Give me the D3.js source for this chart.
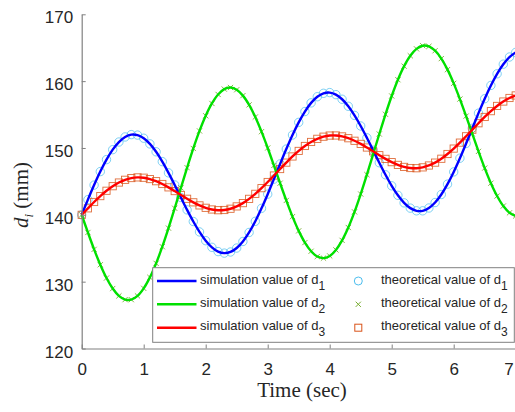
<!DOCTYPE html>
<html>
<head>
<meta charset="utf-8">
<script src="https://cdn.jsdelivr.net/npm/d3@7"></script>
<style>
  html, body { margin: 0; padding: 0; background: #fff; overflow: hidden; }
  svg { display: block; }
</style>
</head>
<body>
<svg id="chart" width="515" height="412"></svg>
<script>
// ---- data ----
const time = [0.0,0.1,0.2,0.3,0.4,0.5,0.6,0.7,0.8,0.9,1.0,1.1,1.2,1.3,1.4,1.5,1.6,1.7,1.8,1.9,2.0,2.1,2.2,2.3,2.4,2.5,2.6,2.7,2.8,2.9,3.0,3.1,3.2,3.3,3.4,3.5,3.6,3.7,3.8,3.9,4.0,4.1,4.2,4.3,4.4,4.5,4.6,4.7,4.8,4.9,5.0,5.1,5.2,5.3,5.4,5.5,5.6,5.7,5.8,5.9,6.0,6.1,6.2,6.3,6.4,6.5,6.6,6.7,6.8,6.9,7.0];
const d1 = [140.00,142.27,144.45,146.47,148.26,149.75,150.89,151.65,152.00,151.93,151.46,150.61,149.43,147.96,146.28,144.47,142.59,140.74,139.00,137.44,136.13,135.14,134.50,134.27,134.44,135.03,136.01,137.36,139.03,140.97,143.09,145.34,147.61,149.84,151.94,153.83,155.45,156.75,157.67,158.18,158.29,157.98,157.29,156.24,154.88,153.29,151.52,149.66,147.79,145.99,144.34,142.92,141.79,141.00,140.60,140.60,141.02,141.84,143.04,144.59,146.42,148.47,150.68,152.95,155.21,157.37,159.36,161.10,162.54,163.61,164.30];
const d2 = [140.00,137.36,134.83,132.53,130.54,128.97,127.87,127.31,127.31,127.87,129.00,130.64,132.74,135.23,138.01,140.98,144.04,147.05,149.93,152.55,154.82,156.66,158.01,158.81,159.05,158.71,157.83,156.45,154.63,152.44,150.00,147.39,144.73,142.15,139.73,137.60,135.85,134.55,133.76,133.52,133.85,134.75,136.18,138.10,140.44,143.11,146.01,149.05,152.09,155.04,157.78,160.21,162.24,163.80,164.83,165.30,165.20,164.55,163.37,161.72,159.67,157.32,154.77,152.12,149.49,146.99,144.73,142.81,141.31,140.30,139.83];
const d3v = [140.00,140.97,141.92,142.80,143.60,144.28,144.83,145.24,145.50,145.60,145.55,145.35,145.03,144.61,144.11,143.55,142.97,142.40,141.87,141.41,141.05,140.80,140.69,140.72,140.91,141.26,141.75,142.39,143.14,143.99,144.91,145.88,146.85,147.81,148.73,149.56,150.30,150.90,151.37,151.69,151.86,151.87,151.73,151.46,151.08,150.61,150.07,149.50,148.92,148.37,147.88,147.47,147.17,147.00,146.97,147.10,147.38,147.81,148.39,149.10,149.91,150.80,151.75,152.73,153.70,154.64,155.51,156.29,156.95,157.48,157.86];
const xTicks = [0,1,2,3,4,5,6,7];
const yTicks = [120,130,140,150,160,170];
const simLabels = ["simulation value of d", "simulation value of d", "simulation value of d"];
const theoLabels = ["theoretical value of d", "theoretical value of d", "theoretical value of d"];
const subs = ["1","2","3"];

// ---- layout ----
const svg = d3.select("#chart");
const x = d3.scaleLinear().domain([0, 7]).range([81.7, 515.7]);
const y = d3.scaleLinear().domain([120, 170]).range([348.5, 14.3]);

const simColors = ["#0000ff", "#00e000", "#ff0000"];
const theoColors = ["#4DBEEE", "#77AC30", "#D95319"];
const series = [d1, d2, d3v];

const font = "'Liberation Sans', Arial, sans-serif";
const serif = "'Liberation Serif', 'Times New Roman', serif";

// markers (drawn beneath the lines)
const mk = svg.append("g");
const pts = i => time.map((t, k) => ({ t, v: series[i][k] }));
mk.append("g").selectAll("circle").data(pts(0)).join("circle")
  .attr("cx", d => x(d.t)).attr("cy", d => y(d.v)).attr("r", 4.2)
  .attr("fill", "none").attr("stroke", theoColors[0]).attr("stroke-width", 0.9).attr("stroke-opacity", 0.8);
mk.append("g").selectAll("path").data(pts(1)).join("path")
  .attr("d", d => { const cx = x(d.t), cy = y(d.v), s = 2.6;
    return `M${cx-s},${cy-s}L${cx+s},${cy+s}M${cx-s},${cy+s}L${cx+s},${cy-s}`; })
  .attr("fill", "none").attr("stroke", theoColors[1]).attr("stroke-width", 0.9);
mk.append("g").selectAll("rect").data(pts(2)).join("rect")
  .attr("x", d => x(d.t) - 3.6).attr("y", d => y(d.v) - 3.6)
  .attr("width", 7.2).attr("height", 7.2)
  .attr("fill", "none").attr("stroke", theoColors[2]).attr("stroke-width", 0.9).attr("stroke-opacity", 0.85);

// simulation lines
const line = d3.line().x((d, k) => x(time[k])).y(d => y(d)).curve(d3.curveCatmullRom);
series.forEach((s, i) => {
  svg.append("path").datum(s).attr("d", line)
    .attr("fill", "none").attr("stroke", simColors[i]).attr("stroke-width", 2.4);
});

// axes
const axisColor = "#808080";
const gx = svg.append("g").attr("transform", `translate(0,${y(120)})`)
  .call(d3.axisBottom(x).tickValues(xTicks).tickFormat(d3.format("d"))
        .tickSizeInner(-4).tickSizeOuter(0).tickPadding(14.5));
const gy = svg.append("g").attr("transform", `translate(${x(0)},0)`)
  .call(d3.axisLeft(y).tickValues(yTicks).tickFormat(d3.format("d"))
        .tickSizeInner(-4).tickSizeOuter(0).tickPadding(8.5));
[gx, gy].forEach(g => {
  g.select(".domain").attr("stroke", axisColor).attr("stroke-width", 1.2);
  g.selectAll(".tick line").attr("stroke", axisColor).attr("stroke-width", 1);
  g.selectAll(".tick text").attr("fill", "#262626").attr("font-size", 17).attr("font-family", font);
});
gy.selectAll(".tick text").attr("dy", "0.5em");
// the last x label sits at the window edge: keep it fully inside
gx.selectAll(".tick").filter(d => d === 7).select("text").attr("text-anchor", "end").attr("dx", -2.5);

// axis titles
svg.append("text").attr("x", 302).attr("y", 397)
  .attr("text-anchor", "middle").attr("font-family", serif).attr("font-size", 21).attr("fill", "#262626")
  .text("Time (sec)");
const yt = svg.append("text").attr("transform", "translate(28,195) rotate(-90)")
  .attr("text-anchor", "middle").attr("font-family", serif).attr("font-size", 21).attr("fill", "#262626");
yt.append("tspan").attr("font-style", "italic").text("d");
yt.append("tspan").attr("font-style", "italic").attr("font-size", 13).attr("dy", 5).text("i");
yt.append("tspan").attr("dy", -5).text(" (mm)");

// legend
const lg = svg.append("g");
lg.append("rect").attr("x", 152.7).attr("y", 267.7).attr("width", 361.6).attr("height", 74.6)
  .attr("fill", "#fff").attr("stroke", axisColor).attr("stroke-width", 1);
const rowY = [281, 304.3, 327.7];
rowY.forEach((ry, i) => {
  lg.append("line").attr("x1", 157).attr("x2", 196.5).attr("y1", ry).attr("y2", ry)
    .attr("stroke", simColors[i]).attr("stroke-width", 2.4);
  const t1 = lg.append("text").attr("x", 200).attr("y", ry + 2.5)
    .attr("font-family", font).attr("font-size", 13).attr("fill", "#262626");
  t1.append("tspan").text(simLabels[i]);
  t1.append("tspan").attr("dy", 6).attr("font-size", 12).text(subs[i]);
  const mx = 358.3;
  if (i === 0) lg.append("circle").attr("cx", mx).attr("cy", ry).attr("r", 4)
    .attr("fill", "none").attr("stroke", theoColors[0]).attr("stroke-width", 1);
  if (i === 1) lg.append("path").attr("d", `M${mx-2.6},${ry-2.6}L${mx+2.6},${ry+2.6}M${mx-2.6},${ry+2.6}L${mx+2.6},${ry-2.6}`)
    .attr("fill", "none").attr("stroke", theoColors[1]).attr("stroke-width", 1);
  if (i === 2) lg.append("rect").attr("x", mx - 3.5).attr("y", ry - 3.5).attr("width", 7).attr("height", 7)
    .attr("fill", "none").attr("stroke", theoColors[2]).attr("stroke-width", 1);
  const t2 = lg.append("text").attr("x", 381).attr("y", ry + 2.5)
    .attr("font-family", font).attr("font-size", 13).attr("fill", "#262626");
  t2.append("tspan").text(theoLabels[i]);
  t2.append("tspan").attr("dy", 6).attr("font-size", 12).text(subs[i]);
});
</script>
</body>
</html>
